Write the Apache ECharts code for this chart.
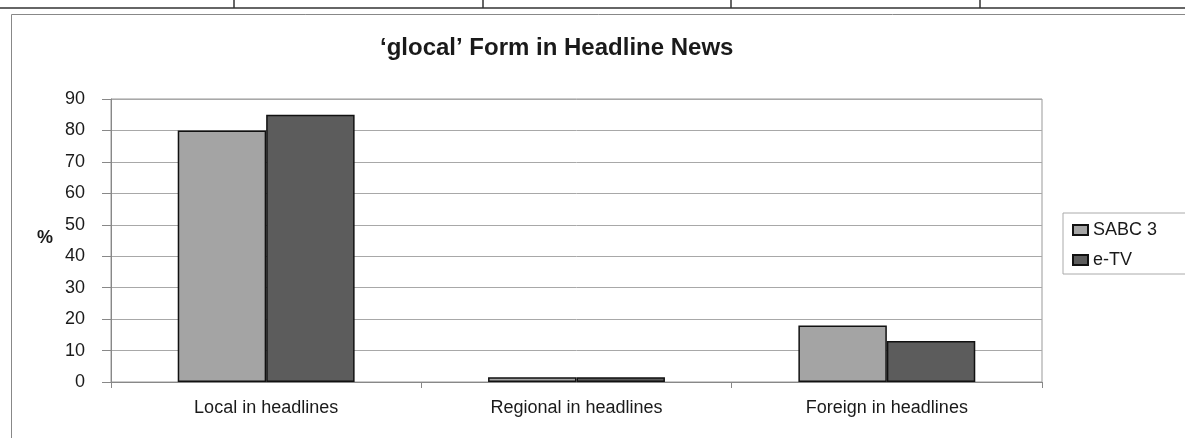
<!DOCTYPE html>
<html>
<head>
<meta charset="utf-8">
<script src="https://cdn.jsdelivr.net/npm/echarts@6/dist/echarts.min.js"></script>
<style>
html,body{margin:0;padding:0;background:#fff;}
#chart{width:1185px;height:438px;}
</style>
</head>
<body>
<div id="chart"></div>
<script>
const categories = ['Local in headlines', 'Regional in headlines', 'Foreign in headlines'];
const sabc3 = [80, 1.5, 18];
const etv = [85, 1.5, 13];
const yTicks = [0, 10, 20, 30, 40, 50, 60, 70, 80, 90];

const FONT = '"Liberation Sans", Arial, sans-serif';
const chart = echarts.init(document.getElementById('chart'), null, {renderer: 'canvas'});
chart.setOption({
  animation: false,
  backgroundColor: '#ffffff',
  title: {
    text: '\u2018glocal\u2019 Form in Headline News',
    left: 375, top: 31,
    textStyle: {fontFamily: FONT, fontSize: 24, fontWeight: 'bold', color: '#1a1a1a'}
  },
  graphic: [
    {type: 'line', shape: {x1: 0, y1: 8, x2: 1185, y2: 8}, style: {stroke: '#333', lineWidth: 1.5}},
    {type: 'line', shape: {x1: 234, y1: 0, x2: 234, y2: 8}, style: {stroke: '#333', lineWidth: 1.5}},
    {type: 'line', shape: {x1: 483, y1: 0, x2: 483, y2: 8}, style: {stroke: '#333', lineWidth: 1.5}},
    {type: 'line', shape: {x1: 731, y1: 0, x2: 731, y2: 8}, style: {stroke: '#333', lineWidth: 1.5}},
    {type: 'line', shape: {x1: 980, y1: 0, x2: 980, y2: 8}, style: {stroke: '#333', lineWidth: 1.5}},
    {type: 'rect', shape: {x: 11.5, y: 14.5, width: 1190, height: 440}, style: {fill: 'none', stroke: '#888', lineWidth: 1}, z: -1},
    {type: 'text', left: 37, top: 229, style: {text: '%', font: 'bold 18px ' + FONT, fill: '#1a1a1a'}}
  ],
  legend: {
    orient: 'vertical',
    left: 1063, top: 213,
    padding: [8, 40, 5, 9],
    icon: 'rect',
    itemWidth: 15, itemHeight: 10, itemGap: 12,
    borderColor: '#aaa', borderWidth: 1,
    textStyle: {fontFamily: FONT, fontSize: 18, color: '#1a1a1a'},
    data: ['SABC 3', 'e-TV']
  },
  grid: {
    left: 111, right: 143, top: 99, bottom: 56,
    show: true, borderColor: '#999', borderWidth: 1, backgroundColor: '#fff'
  },
  xAxis: {
    type: 'category',
    data: categories,
    axisLine: {lineStyle: {color: '#888', width: 1}},
    axisTick: {show: true, length: 6, lineStyle: {color: '#888'}},
    axisLabel: {margin: 17, fontFamily: FONT, fontSize: 18, color: '#1a1a1a'}
  },
  yAxis: {
    type: 'value',
    min: 0, max: 90, interval: 10,
    axisLine: {show: true, lineStyle: {color: '#888', width: 1}},
    axisTick: {show: true, length: 9, lineStyle: {color: '#888'}},
    splitLine: {show: true, lineStyle: {color: '#a8a8a8', width: 1}},
    axisLabel: {
      margin: 26, fontFamily: FONT, fontSize: 18, color: '#1a1a1a',
      formatter: function (v) { return yTicks.indexOf(v) >= 0 ? String(v) : ''; }
    }
  },
  series: [
    {
      name: 'SABC 3', type: 'bar', data: sabc3,
      barGap: '0%', barCategoryGap: '43%',
      itemStyle: {color: '#a4a4a4', borderColor: '#111', borderWidth: 1.5}
    },
    {
      name: 'e-TV', type: 'bar', data: etv,
      itemStyle: {color: '#5c5c5c', borderColor: '#111', borderWidth: 1.5}
    }
  ]
});
</script>
</body>
</html>
